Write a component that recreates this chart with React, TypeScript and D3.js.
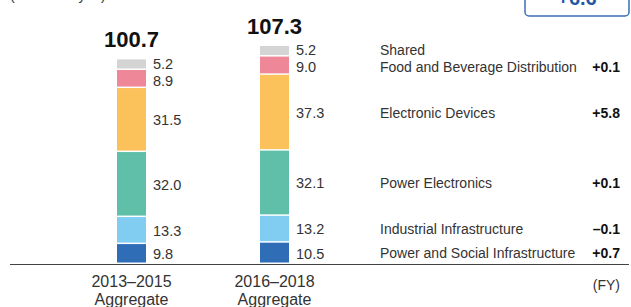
import React from "react";
import * as d3 from "d3";

// net sales by segment, billions of yen
const periods = ["2013–2015", "2016–2018"];
const segments = [
  "Power and Social Infrastructure",
  "Industrial Infrastructure",
  "Power Electronics",
  "Electronic Devices",
  "Food and Beverage Distribution",
  "Shared",
];
const values2013 = [9.8, 13.3, 32.0, 31.5, 8.9, 5.2];
const values2016 = [10.5, 13.2, 32.1, 37.3, 9.0, 5.2];
const totals = [100.7, 107.3];
const changes = ["+0.7", "–0.1", "+0.1", "+5.8", "+0.1", ""];
const totalChange = "+6.6";
const colors = ["#2f6db6", "#80cdf1", "#5fbfa8", "#fbc15b", "#ee8898", "#d4d4d4"];

const W = 631;
const H = 307;
const font = "'Liberation Sans', Arial, Helvetica, sans-serif";
const textColor = "#333";
const minGap = 17;

// spread label centres so neighbours don't collide
function spread(mids: number[]) {
  const out = mids.slice();
  for (let i = 0; i < out.length - 1; i++) {
    const gap = out[i] - out[i + 1]; // i is below i+1
    if (gap < minGap) {
      const push = (minGap - gap) / 2;
      out[i] += push;
      out[i + 1] -= push;
    }
  }
  return out;
}

export default function App() {
  const rows = periods.map((p, i) => {
    const r: any = { period: p };
    const vals = i === 0 ? values2013 : values2016;
    segments.forEach((s, j) => (r[s] = vals[j]));
    return r;
  });
  const series = d3.stack().keys(segments)(rows);

  const y = d3.scaleLinear().domain([0, 107.3]).range([264, 46]);
  const x = d3.scalePoint().domain(periods).range([131.5, 274.5]);
  const barW = 29;
  const lastIdx = periods.length - 1;

  const labelY = periods.map((_, pi) =>
    spread(series.map((s) => (y(s[pi][1]) + y(s[pi][0])) / 2))
  );

  return (
    <svg
      width={W}
      height={H}
      style={{ position: "absolute", left: 0, top: 0, background: "#fff" }}
      fontFamily={font}
    >
      {/* unit label, clipped at top */}
      <text x={10} y={0} fontSize={14} fill={textColor}>(Billions of yen)</text>

      {/* total change box */}
      <rect x={525} y={-20} width={104} height={36} rx={4} fill="#fff" stroke="#3b6db5" strokeWidth={1.5} />
      <text x={577} y={5} fontSize={20} fontWeight="bold" fill="#2357a6" textAnchor="middle">
        {totalChange}
      </text>

      {series.map((s, si) => (
        <g key={s.key} fill={colors[si]}>
          {s.map((d, pi) => {
            const cx = x(periods[pi])!;
            const top = y(d[1]);
            const bottom = y(d[0]);
            return (
              <rect
                key={pi}
                x={cx - barW / 2}
                y={top}
                width={barW}
                height={Math.max(0, bottom - top - 1.5)}
              />
            );
          })}
        </g>
      ))}

      {/* value labels */}
      {series.map((s, si) =>
        s.map((d, pi) => {
          const cx = x(periods[pi])!;
          return (
            <text
              key={s.key + pi}
              x={cx + barW / 2 + 7}
              y={labelY[pi][si]}
              dy="0.36em"
              fontSize={14.5}
              fill={textColor}
            >
              {(d[1] - d[0]).toFixed(1)}
            </text>
          );
        })
      )}

      {/* segment names and changes, aligned with latest bar */}
      {series.map((s, si) => {
        const mid = labelY[lastIdx][si];
        return (
          <g key={"lg" + s.key}>
            <text x={380} y={mid} dy="0.36em" fontSize={14} fill={textColor}>
              {segments[si]}
            </text>
            <text x={620} y={mid} dy="0.36em" fontSize={14} fontWeight="bold" fill="#111" textAnchor="end">
              {changes[si]}
            </text>
          </g>
        );
      })}

      {/* totals */}
      {periods.map((p, i) => (
        <text
          key={"t" + p}
          x={x(p)!}
          y={y(totals[i]) - 12}
          fontSize={22}
          fontWeight="bold"
          fill="#111"
          textAnchor="middle"
        >
          {totals[i].toFixed(1)}
        </text>
      ))}

      {/* baseline */}
      <line x1={10} x2={629} y1={264.5} y2={264.5} stroke="#444" strokeWidth={1.2} />

      {/* category labels */}
      {periods.map((p) => (
        <text key={"c" + p} x={x(p)!} y={287} fontSize={16} fill={textColor} textAnchor="middle">
          <tspan x={x(p)!}>{p}</tspan>
          <tspan x={x(p)!} dy={18}>Aggregate</tspan>
        </text>
      ))}
      <text x={620} y={290} fontSize={14} fill={textColor} textAnchor="end">(FY)</text>
    </svg>
  );
}
